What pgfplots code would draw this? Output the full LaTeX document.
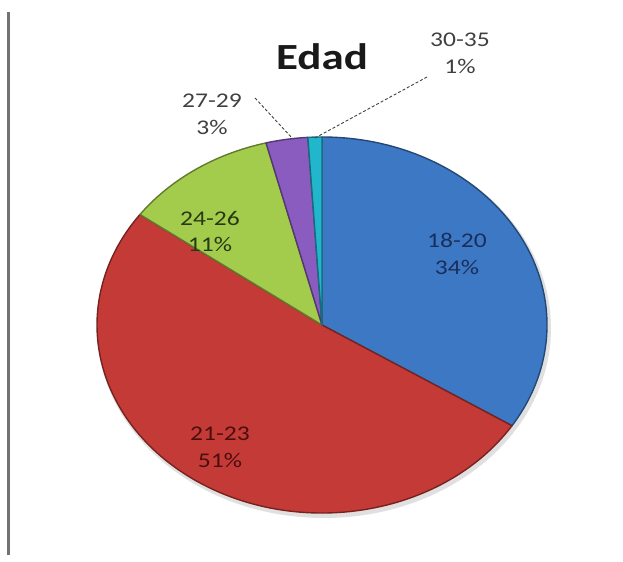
\documentclass[border=0pt]{standalone}
\usepackage{fontspec}
\setmainfont{Carlito}
\usepackage{graphicx}
\usepackage{pgfplots}
\usepackage{pgfplotstable}
\pgfplotsset{compat=1.18}
\definecolor{c0}{HTML}{3C78C4}
\definecolor{c1}{HTML}{C43A36}
\definecolor{c2}{HTML}{A4CC4C}
\definecolor{c3}{HTML}{8A5CC0}
\definecolor{c4}{HTML}{22B6CC}
\pgfplotstableread{
lab val
18-20 34
21-23 51
24-26 11
27-29 3
30-35 1
}\piedata
\newcommand{\sx}[1]{\scalebox{1.22}[1]{#1}}
\begin{document}
\begin{tikzpicture}
\begin{axis}[
  scale only axis, width=623bp, height=562bp,
  xmin=0, xmax=623, ymin=0, ymax=562,
  hide axis, clip=false,
]
\path (axis cs:0,0) rectangle (axis cs:623,562);
% left border line
\draw[black!55, line width=2.2bp] (axis cs:8.5,550) -- (axis cs:8.5,7);
% soft shadow
\fill[black!12] (axis cs:324,234) ellipse[x radius=227, y radius=190];
\def\curA{90}
\pgfplotsforeachungrouped \i in {0,...,4}{%
  \pgfplotstablegetelem{\i}{val}\of\piedata
  \pgfmathsetmacro\endA{\curA-3.6*\pgfplotsretval}%
  \pgfmathsetmacro\px{322+225*cos(\curA)}%
  \pgfmathsetmacro\py{237+188*sin(\curA)}%
  \edef\tmp{\noexpand\fill[fill=c\i, draw=c\i!60!black, line width=1.4bp, line join=round] (axis cs:322,237) -- (axis cs:\px,\py) arc[start angle=\curA, end angle=\endA, x radius=225, y radius=188] -- cycle;}%
  \tmp
  \global\let\curA\endA
}
% leader lines
\draw[black!75, densely dashed, line width=0.9bp] (axis cs:255,464) -- (axis cs:292,424);
\draw[black!75, densely dashed, line width=0.9bp] (axis cs:427,485) -- (axis cs:315,424);
% title
\node[font=\bfseries\fontsize{37}{40}\selectfont, text=black!90] at (axis cs:322,505) {\sx{Edad}};
% labels
\node[align=center, font=\fontsize{21}{27}\selectfont, text=black!75] at (axis cs:460,509) {\sx{30-35}\\\sx{1\%}};
\node[align=center, font=\fontsize{21}{27}\selectfont, text=black!75] at (axis cs:212,448) {\sx{27-29}\\\sx{3\%}};
\node[align=center, font=\fontsize{21}{27}\selectfont, text={rgb,255:red,40;green,56;blue,20}] at (axis cs:210,330.5) {\sx{24-26}\\\sx{11\%}};
\node[align=center, font=\fontsize{21}{27}\selectfont, text={rgb,255:red,26;green,46;blue,92}] at (axis cs:457,308) {\sx{18-20}\\\sx{34\%}};
\node[align=center, font=\fontsize{21}{27}\selectfont, text={rgb,255:red,74;green,14;blue,14}] at (axis cs:220,114.5) {\sx{21-23}\\\sx{51\%}};
\end{axis}
\end{tikzpicture}
\end{document}
